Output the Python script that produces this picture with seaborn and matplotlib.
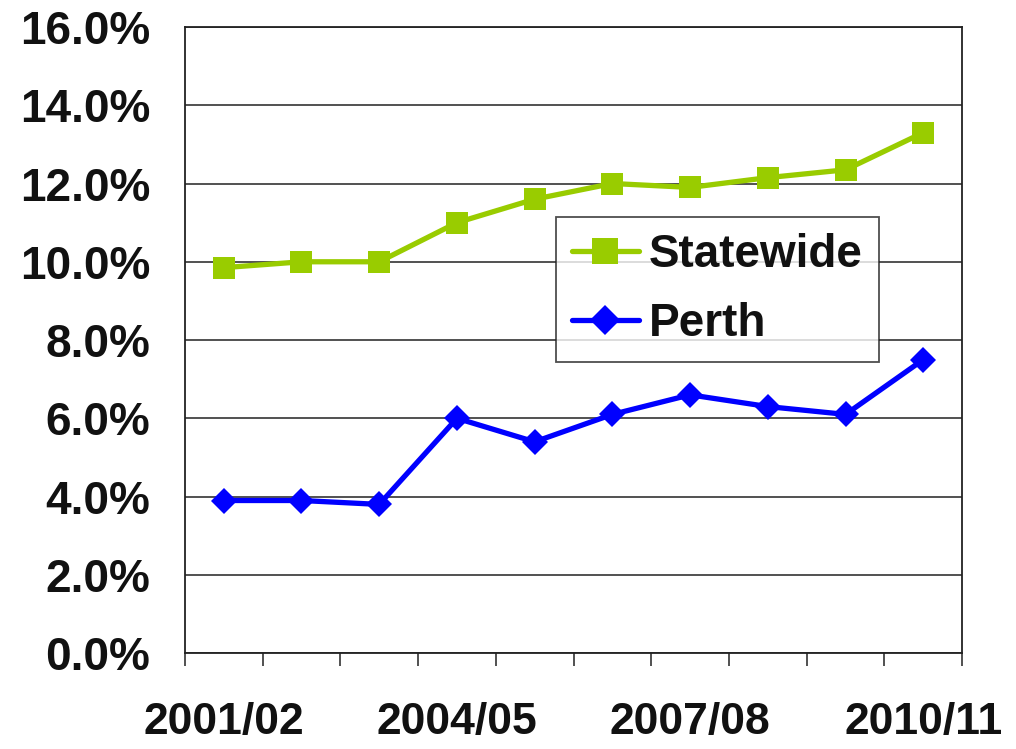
import pandas as pd
import matplotlib
matplotlib.use("Agg")
import matplotlib.pyplot as plt
import seaborn as sns
from matplotlib.ticker import FixedLocator, FuncFormatter

OUTPUT_IMAGE = "out.png"

# Data (percent)
years = ["2001/02", "2002/03", "2003/04", "2004/05", "2005/06",
         "2006/07", "2007/08", "2008/09", "2009/10", "2010/11"]
statewide = [9.85, 10.0, 10.0, 11.0, 11.6, 12.0, 11.9, 12.15, 12.35, 13.3]
perth = [3.9, 3.9, 3.8, 6.0, 5.4, 6.1, 6.6, 6.3, 6.1, 7.5]
shown_labels = ["2001/02", "2004/05", "2007/08", "2010/11"]

COLORS = {"Statewide": "#99CC00", "Perth": "#0000FF"}
MARKERS = {"Statewide": "s", "Perth": "D"}


def build_frame():
    rows = []
    for name, vals in [("Statewide", statewide), ("Perth", perth)]:
        for i, (yr, v) in enumerate(zip(years, vals)):
            rows.append({"idx": i, "year": yr, "value": v, "series": name})
    return pd.DataFrame(rows)


def main():
    df = build_frame()

    sns.set_theme(style="white")
    plt.rcParams["font.family"] = ["Liberation Sans", "DejaVu Sans"]

    fig = plt.figure(figsize=(10.16, 7.49), dpi=100)
    ax = fig.add_axes([0.182, 0.128, 0.765, 0.836])

    for name in ["Statewide", "Perth"]:
        sub = df[df["series"] == name]
        sns.lineplot(data=sub, x="idx", y="value", ax=ax, color=COLORS[name],
                     marker=MARKERS[name], linewidth=3.8,
                     markersize=16.5 if name == "Statewide" else 13.5,
                     markeredgewidth=0, label=name)

    ax.set_xlim(-0.5, len(years) - 0.5)
    ax.set_ylim(0, 16)

    # horizontal gridlines
    ax.set_yticks([0, 2, 4, 6, 8, 10, 12, 14, 16])
    ax.yaxis.set_major_formatter(FuncFormatter(lambda v, p: f"{v:.1f}%"))
    ax.grid(axis="y", color="#222222", linewidth=1.1)
    ax.grid(axis="x", visible=False)

    # x labels at every third year, ticks at category boundaries
    pos = [years.index(l) for l in shown_labels]
    ax.set_xticks(pos)
    ax.set_xticklabels(shown_labels)
    ax.xaxis.set_minor_locator(FixedLocator([i - 0.5 for i in range(len(years) + 1)]))
    ax.tick_params(axis="x", which="major", length=0, pad=35, labelsize=32)
    ax.tick_params(axis="x", which="minor", length=9, width=1.1, color="#222222",
                   direction="out", bottom=True)
    ax.tick_params(axis="y", length=0, pad=25, labelsize=33)
    for lbl in ax.get_xticklabels() + ax.get_yticklabels():
        lbl.set_fontweight("bold")
        lbl.set_color("#111111")

    for s in ax.spines.values():
        s.set_visible(True)
        s.set_color("#222222")
        s.set_linewidth(1.3)

    ax.set_xlabel("")
    ax.set_ylabel("")

    leg = ax.legend(loc="upper left", bbox_to_anchor=(0.4775, 0.6965),
                    prop={"size": 33, "weight": "bold"}, frameon=True,
                    fancybox=False, handlelength=1.45, handletextpad=0.22,
                    borderpad=0.35, labelspacing=0.55, borderaxespad=0,
                    markerscale=1.1)
    leg.get_frame().set_edgecolor("#222222")
    leg.get_frame().set_linewidth(1.3)
    for t in leg.get_texts():
        t.set_color("#111111")

    fig.savefig(OUTPUT_IMAGE, dpi=100)


if __name__ == "__main__":
    main()
